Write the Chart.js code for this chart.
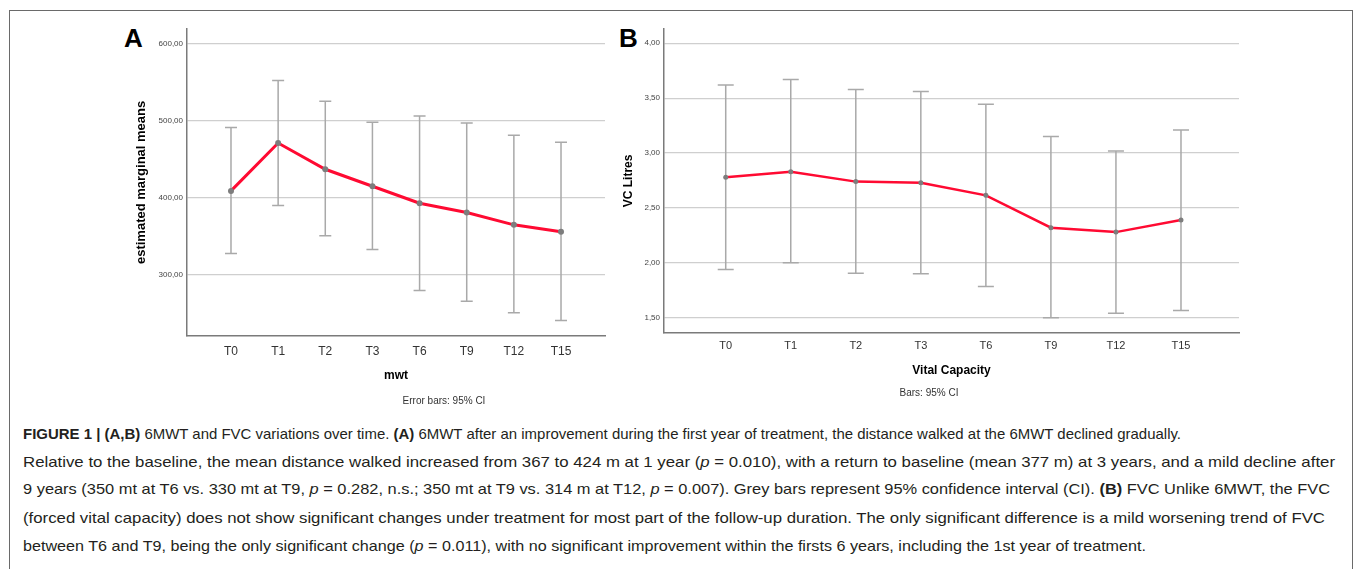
<!DOCTYPE html>
<html>
<head>
<meta charset="utf-8">
<script src="https://cdn.jsdelivr.net/npm/chart.js@4.4.0/dist/chart.umd.min.js"></script>
<style>
  html, body { margin:0; padding:0; background:#fff; }
  body { width:1355px; height:569px; position:relative; overflow:hidden; font-family:"Liberation Sans", Arial, sans-serif; }
  #frame { position:absolute; left:9px; top:10px; width:1344px; height:620px; border:1px solid #6a6a6a; box-sizing:border-box; }
  canvas { position:absolute; }
  .lbl { position:absolute; font-weight:bold; font-size:26px; color:#000; line-height:26px; }
  .note { position:absolute; font-size:10px; color:#333; white-space:nowrap; transform:translateX(-50%); line-height:12px; }
  .cap { position:absolute; left:23px; font-size:15px; line-height:20px; color:#231f20; white-space:nowrap; transform-origin:0 50%; }
</style>
</head>
<body>
<div id="frame"></div>
<div class="lbl" style="left:124px;top:25px;">A</div>
<div class="lbl" style="left:619px;top:25px;">B</div>
<canvas id="cA" width="505" height="380" style="left:110px;top:20px;"></canvas>
<canvas id="cB" width="640" height="380" style="left:610px;top:20px;"></canvas>
<div class="note" style="left:444px;top:395px;">Error bars: 95% CI</div>
<div class="note" style="left:929px;top:387px;">Bars: 95% CI</div>

<div class="cap" id="l1" style="top:424px;"><b>FIGURE 1 | (A,B)</b> 6MWT and FVC variations over time. <b>(A)</b> 6MWT after an improvement during the first year of treatment, the distance walked at the 6MWT declined gradually.</div>
<div class="cap" id="l2" style="top:452px;">Relative to the baseline, the mean distance walked increased from 367 to 424 m at 1 year (<i>p</i> = 0.010), with a return to baseline (mean 377 m) at 3 years, and a mild decline after</div>
<div class="cap" id="l3" style="top:479px;">9 years (350 mt at T6 vs. 330 mt at T9, <i>p</i> = 0.282, n.s.; 350 mt at T9 vs. 314 m at T12, <i>p</i> = 0.007). Grey bars represent 95% confidence interval (CI). <b>(B)</b> FVC Unlike 6MWT, the FVC</div>
<div class="cap" id="l4" style="top:508px;">(forced vital capacity) does not show significant changes under treatment for most part of the follow-up duration. The only significant difference is a mild worsening trend of FVC</div>
<div class="cap" id="l5" style="top:536px;">between T6 and T9, being the only significant change (<i>p</i> = 0.011), with no significant improvement within the firsts 6 years, including the 1st year of treatment.</div>

<script>
// ---- data ----
const categories = ['T0','T1','T2','T3','T6','T9','T12','T15'];

const mwtMean  = [409, 471, 437, 415, 393, 381, 365, 356];
const mwtUpper = [491, 552, 525, 498, 506, 497, 481, 472];
const mwtLower = [328, 390, 351, 333, 280, 266, 251, 241];
const mwtTicks = [300, 400, 500, 600];

const vcMean  = [2.78, 2.83, 2.74, 2.73, 2.615, 2.32, 2.28, 2.39];
const vcUpper = [3.62, 3.67, 3.58, 3.56, 3.445, 3.15, 3.02, 3.21];
const vcLower = [1.94, 2.00, 1.905, 1.90, 1.785, 1.50, 1.54, 1.565];
const vcTicks = [1.5, 2.0, 2.5, 3.0, 3.5, 4.0];

// ---- helpers ----
const fmt = v => v.toFixed(2).replace('.', ',');

function errorBarPlugin(lower, upper, cap, color, width) {
  return {
    id: 'errorBars',
    beforeDatasetsDraw(chart) {
      const {ctx, scales: {x, y}} = chart;
      ctx.save();
      ctx.strokeStyle = color;
      ctx.lineWidth = width;
      lower.forEach((lo, i) => {
        const px = x.getPixelForValue(i);
        const p1 = y.getPixelForValue(lo);
        const p2 = y.getPixelForValue(upper[i]);
        ctx.beginPath();
        ctx.moveTo(px, p1); ctx.lineTo(px, p2);
        ctx.moveTo(px - cap, p1); ctx.lineTo(px + cap, p1);
        ctx.moveTo(px - cap, p2); ctx.lineTo(px + cap, p2);
        ctx.stroke();
      });
      ctx.restore();
    }
  };
}

function makeChart(id, cfg) {
  return new Chart(document.getElementById(id), {
    type: 'line',
    data: {
      datasets: [{
        data: cfg.mean.map((v, i) => ({x: i, y: v})),
        borderColor: '#ff0a32',
        borderWidth: cfg.lineWidth,
        pointBackgroundColor: '#7d7d7d',
        pointBorderColor: '#7d7d7d',
        pointBorderWidth: 0,
        pointRadius: cfg.pointRadius,
        tension: 0
      }]
    },
    options: {
      responsive: false,
      animation: false,
      devicePixelRatio: 1,
      layout: { padding: { left: 0, top: cfg.padTop, right: cfg.padRight, bottom: 0 } },
      plugins: { legend: { display: false }, tooltip: { enabled: false } },
      scales: {
        x: {
          type: 'linear',
          min: cfg.xMin, max: cfg.xMax,
          afterFit: s => { s.height = cfg.xHeight; },
          afterBuildTicks: s => { s.ticks = categories.map((c, i) => ({value: i})); },
          grid: { display: false, drawTicks: false },
          border: { display: true, color: '#7a7a7a', width: 1.5 },
          ticks: {
            autoSkip: false, maxRotation: 0, padding: cfg.xTickPad,
            color: '#333', font: { family: 'Liberation Sans Narrow, Liberation Sans, Arial', size: cfg.xTickSize },
            callback: v => categories[v]
          },
          title: {
            display: true, text: cfg.xTitle, color: '#000',
            font: { family: 'Liberation Sans, Arial', size: 12, weight: 'bold' },
            padding: { top: 0, bottom: cfg.xTitlePad }
          }
        },
        y: {
          min: cfg.yMin, max: cfg.yMax,
          afterFit: s => { s.width = cfg.yWidth; },
          afterBuildTicks: s => { s.ticks = cfg.ticks.map(v => ({value: v})); },
          grid: { display: true, drawTicks: false, color: '#cfcfcf', lineWidth: 1.2 },
          border: { display: true, color: '#7a7a7a', width: 1.5 },
          ticks: {
            padding: 4, color: '#444',
            font: { family: 'Liberation Sans, Arial', size: 8 },
            callback: v => fmt(v)
          },
          title: {
            display: true, text: cfg.yTitle, color: '#000',
            font: { family: 'Liberation Sans, Arial', size: cfg.yTitleSize, weight: 'bold' },
            padding: { top: cfg.yTitlePad, bottom: 0 }
          }
        }
      }
    },
    plugins: [errorBarPlugin(cfg.lower, cfg.upper, cfg.cap, '#a9a9a9', 1.5)]
  });
}

makeChart('cA', {
  mean: mwtMean, lower: mwtLower, upper: mwtUpper, ticks: mwtTicks,
  xMin: -0.933, xMax: 7.933, yMin: 221, yMax: 619,
  padTop: 7, padRight: 10, xHeight: 64, yWidth: 77,
  xTickPad: 8, xTickSize: 12, xTitle: 'mwt', xTitlePad: 17,
  yTitle: 'estimated marginal means', yTitleSize: 13, yTitlePad: 24,
  lineWidth: 3, pointRadius: 3, cap: 6
});

makeChart('cB', {
  mean: vcMean, lower: vcLower, upper: vcUpper, ticks: vcTicks,
  xMin: -0.949, xMax: 7.892, yMin: 1.361, yMax: 4.132,
  padTop: 8, padRight: 11, xHeight: 67, yWidth: 54,
  xTickPad: 6, xTickSize: 11, xTitle: 'Vital Capacity', xTitlePad: 22,
  yTitle: 'VC Litres', yTitleSize: 12, yTitlePad: 11,
  lineWidth: 2.5, pointRadius: 2.5, cap: 8
});

// fit caption lines to the widths measured on the reference
const capTargets = { l1: 1158, l2: 1312, l3: 1307, l4: 1302, l5: 1123 };
Object.keys(capTargets).forEach(id => {
  const el = document.getElementById(id);
  el.style.display = 'inline-block';
  const w = el.getBoundingClientRect().width;
  el.style.transform = 'scaleX(' + (capTargets[id] / w) + ')';
});
</script>
</body>
</html>
